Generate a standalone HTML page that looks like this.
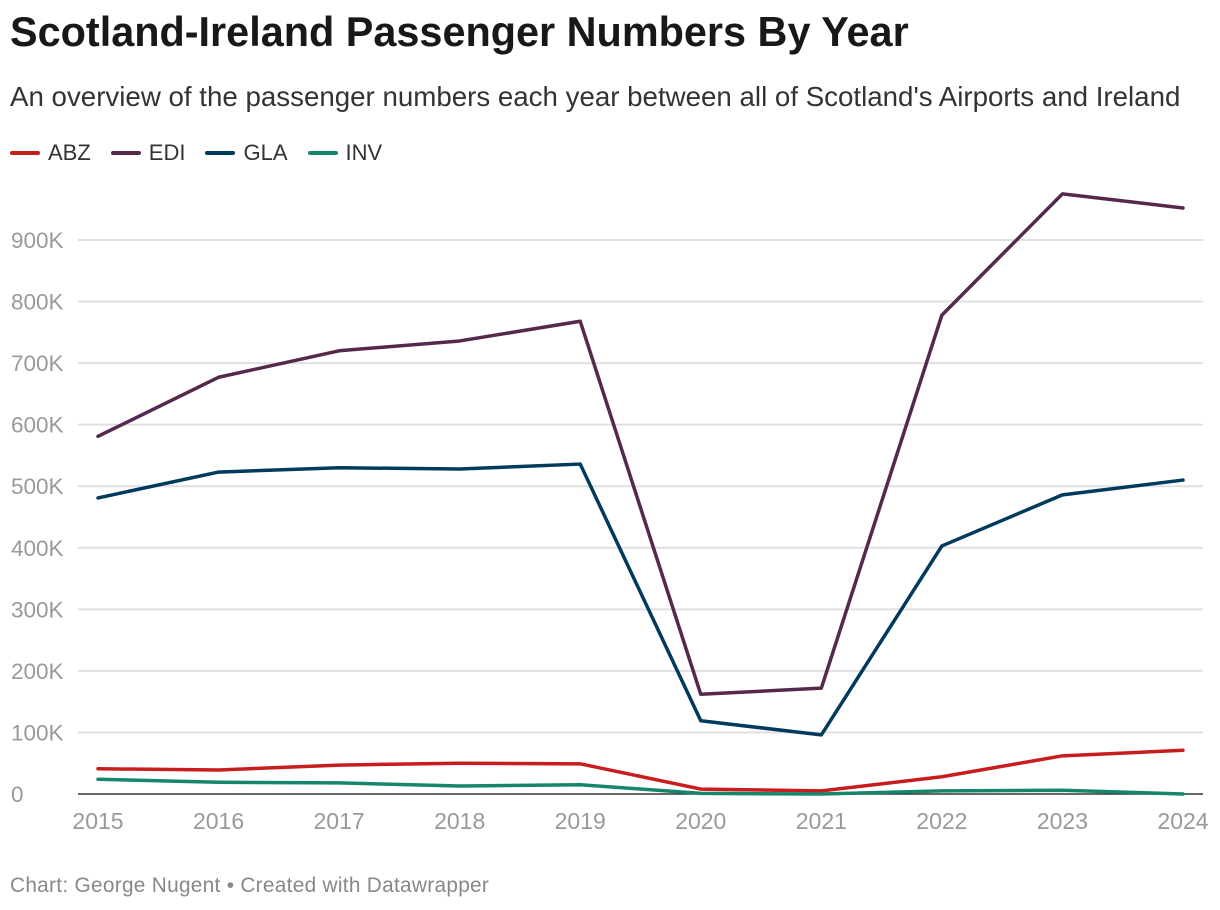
<!DOCTYPE html>
<html><head><meta charset="utf-8"><style>
body{margin:0;background:#fff;font-family:"Liberation Sans",sans-serif;}
#wrap{position:relative;width:1220px;height:910px;overflow:hidden;}
h1{position:absolute;left:10px;top:9px;margin:0;font-size:41.4px;font-weight:bold;color:#181818;}
.sub{position:absolute;left:10px;top:81px;font-size:27.7px;color:#333;}
.legend{position:absolute;left:10px;top:140px;font-size:22px;color:#333;display:flex;gap:20px;}
.legend span{display:flex;align-items:center;}
.legend i{display:inline-block;width:30px;height:4px;margin-right:8px;border-radius:2px;}
.foot{position:absolute;left:10px;top:874px;font-size:20.8px;color:#888;letter-spacing:0.3px;}
svg{position:absolute;left:0;top:0;}
</style></head><body>
<div id="wrap">
<h1>Scotland-Ireland Passenger Numbers By Year</h1>
<div class="sub">An overview of the passenger numbers each year between all of Scotland's Airports and Ireland</div>
<div class="legend">
<span><i style="background:#c71e1d"></i>ABZ</span>
<span><i style="background:#55294b"></i>EDI</span>
<span><i style="background:#003a5d"></i>GLA</span>
<span><i style="background:#15866c"></i>INV</span>
</div>
<svg id="chart" width="1220" height="910"></svg>
<div class="foot">Chart: George Nugent • Created with Datawrapper</div>
</div>
<script>
const years=[2015,2016,2017,2018,2019,2020,2021,2022,2023,2024];
const yTicks=[0,100000,200000,300000,400000,500000,600000,700000,800000,900000];
const yTickLabels=["0","100K","200K","300K","400K","500K","600K","700K","800K","900K"];
const abz=[41000,39000,47000,50000,49000,8000,5000,28000,62000,71000];
const edi=[581000,677000,720000,736000,768000,162000,172000,778000,975000,952000];
const gla=[481000,523000,530000,528000,536000,119000,96000,403000,486000,510000];
const inv=[24000,19000,18000,13000,15000,1000,0,5000,6000,0];
const seriesNames=["abz","edi","gla","inv"];
const seriesColors=["#c71e1d","#55294b","#003a5d","#15866c"];
const NS="http://www.w3.org/2000/svg";
const svg=document.getElementById('chart');
function x(i){return 98+i*(1183-98)/(years.length-1);}
function y(v){return 794-v*(794-240)/900000;}
function mk(t,a){const e=document.createElementNS(NS,t);for(const k in a)e.setAttribute(k,a[k]);svg.appendChild(e);return e;}
yTicks.forEach((v,i)=>{
  if(v>0){const l=mk('line',{x1:78,x2:1203,y1:y(v),y2:y(v),stroke:'#e0e0e0','stroke-width':2});
  
  }
  const t=mk('text',{x:11,y:y(v)+8,'font-size':22.5,fill:'#999','font-family':'Liberation Sans, sans-serif'});
  t.textContent=yTickLabels[i];
  
  
});
const base=mk('line',{x1:78,x2:1203,y1:y(0),y2:y(0),stroke:'#333','stroke-width':1.5});


years.forEach((yr,i)=>{
  const t=mk('text',{x:x(i),y:829,'font-size':23,fill:'#999','text-anchor':'middle','font-family':'Liberation Sans, sans-serif'});
  t.textContent=yr;
  
  
});
[abz,edi,gla,inv].forEach((d,si)=>{
  const p=mk('polyline',{points:d.map((v,i)=>x(i)+','+y(v)).join(' '),fill:'none',stroke:seriesColors[si],'stroke-width':3.5,'stroke-linejoin':'round','stroke-linecap':'round'});
  
  
});
</script>
</body></html>
